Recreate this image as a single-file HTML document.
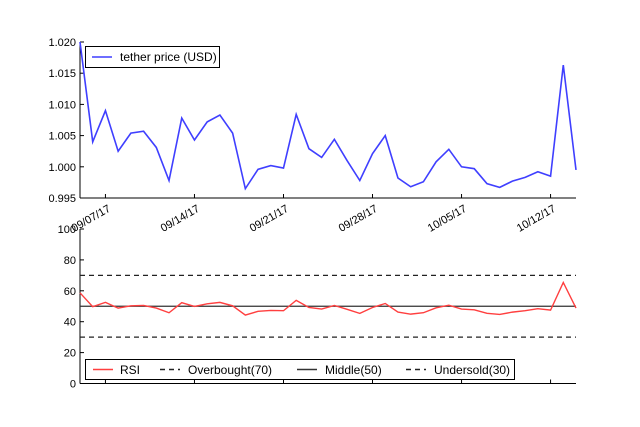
<!DOCTYPE html>
<html><head><meta charset="utf-8"><style>
html,body{margin:0;padding:0;background:#fff;}
svg{display:block;font-family:"Liberation Sans","DejaVu Sans",sans-serif;}
</style></head><body>
<svg id="chart" width="640" height="427" viewBox="0 0 640 427" xmlns="http://www.w3.org/2000/svg">
<g id="topPanel"></g>
<g id="botPanel"></g>
</svg>
<script>
const dateLabels = ["09/07/17","09/14/17","09/21/17","09/28/17","10/05/17","10/12/17"];
const dateTickIdx = [2,9,16,23,30,37];
const price = [1.0200,1.0040,1.0090,1.0025,1.0054,1.0057,1.0031,0.9978,1.0078,1.0043,1.0072,1.0083,1.0054,0.9965,0.9996,1.0002,0.9998,1.0084,1.0029,1.0015,1.0044,1.0010,0.9978,1.0021,1.0050,0.9982,0.9968,0.9976,1.0008,1.0028,1.0000,0.9997,0.9973,0.9967,0.9977,0.9983,0.9992,0.9985,1.0163,0.9995];
const rsi = [58.7,49.7,52.5,48.8,50.3,50.5,48.8,45.8,52.3,49.9,51.6,52.5,50.3,44.3,46.7,47.3,47.1,53.8,49.2,48.2,50.5,48.0,45.4,49.2,51.8,46.2,44.9,45.8,49.0,50.7,48.2,47.7,45.4,44.7,46.2,47.1,48.4,47.5,65.4,48.8];
const priceTicks = [0.995,1.000,1.005,1.010,1.015,1.020];
const rsiTicks = [0,20,40,60,80,100];
const levels = [70,50,30];

const NS="http://www.w3.org/2000/svg";
function mk(tag,attrs,parent){const e=document.createElementNS(NS,tag);for(const k in attrs)e.setAttribute(k,attrs[k]);parent.appendChild(e);return e;}
const X0=80,X1=576;
const xs=i=>X0+(X1-X0)*i/(price.length-1);
const yP=v=>198-(v-0.995)/(0.025)*156;
const yR=v=>383.5-v/100*154.5;
const topG=document.getElementById('topPanel'),botG=document.getElementById('botPanel');

let e=mk('line',{x1:X0,y1:42,x2:X0,y2:198,stroke:'#000','stroke-width':1},topG);


e=mk('line',{x1:X0,y1:198,x2:X1,y2:198,stroke:'#000','stroke-width':1},topG);


priceTicks.forEach(t=>{
 const y=yP(t);
 mk('line',{x1:X0,y1:y,x2:X0+4,y2:y,stroke:'#000'},topG);
 const tx=mk('text',{x:X0-4,y:y+4,'text-anchor':'end','font-size':11},topG);
 tx.textContent=t.toFixed(3);
 
 
});
dateTickIdx.forEach((idx,k)=>{
 const x=xs(idx);
 mk('line',{x1:x,y1:198,x2:x,y2:194,stroke:'#000'},topG);
 const tx=mk('text',{x:x+2,y:204,'text-anchor':'end','font-size':11,transform:`rotate(-30 ${x+2} 204)`,dy:'0.7em'},topG);
 tx.textContent=dateLabels[k];
 
 
});
e=mk('polyline',{points:price.map((v,i)=>xs(i)+','+yP(v)).join(' '),fill:'none',stroke:'#3f3fff','stroke-width':1.6},topG);


const lg=mk('g',{},topG);


mk('rect',{x:85.5,y:46.5,width:134,height:21,fill:'#fff',stroke:'#000'},lg);
mk('line',{x1:92,y1:57,x2:112,y2:57,stroke:'#3f3fff','stroke-width':1.6},lg);
const lt=mk('text',{x:120,y:61,'font-size':12},lg);lt.textContent='tether price (USD)';

e=mk('line',{x1:X0,y1:229,x2:X0,y2:383.5,stroke:'#000'},botG);


e=mk('line',{x1:X0,y1:383.5,x2:X1,y2:383.5,stroke:'#000'},botG);


rsiTicks.forEach(v=>{
 const y=yR(v);
 mk('line',{x1:X0,y1:y,x2:X0+4,y2:y,stroke:'#000'},botG);
 const tx=mk('text',{x:X0-4,y:y+4,'text-anchor':'end','font-size':11},botG);
 tx.textContent=v;
 
 
});
dateTickIdx.forEach(idx=>{const x=xs(idx);mk('line',{x1:x,y1:383.5,x2:x,y2:379.5,stroke:'#000'},botG);});
levels.forEach(l=>{
 const ln=mk('line',{x1:X0,y1:yR(l),x2:X1,y2:yR(l),stroke:l===50?'#333':'#222','stroke-width':1.3,'stroke-dasharray':l===50?'none':'5,4'},botG);
 
 
});
e=mk('polyline',{points:rsi.map((v,i)=>xs(i)+','+yR(v)).join(' '),fill:'none',stroke:'#ff3f3f','stroke-width':1.4},botG);


const lg2=mk('g',{},botG);


mk('rect',{x:85.5,y:359.5,width:429,height:20,fill:'#fff',stroke:'#000'},lg2);
const items=[['RSI','#ff3f3f','none',93,120],['Overbought(70)','#222','5,4',160,188],['Middle(50)','#333','none',297,325],['Undersold(30)','#222','5,4',406,434]];
items.forEach(([lab,c,d,x,tx])=>{
 mk('line',{x1:x,y1:369.5,x2:x+20,y2:369.5,stroke:c,'stroke-width':1.4,'stroke-dasharray':d},lg2);
 const tt=mk('text',{x:tx,y:374,'font-size':12},lg2);tt.textContent=lab;
 
 
});
</script>
</body></html>
